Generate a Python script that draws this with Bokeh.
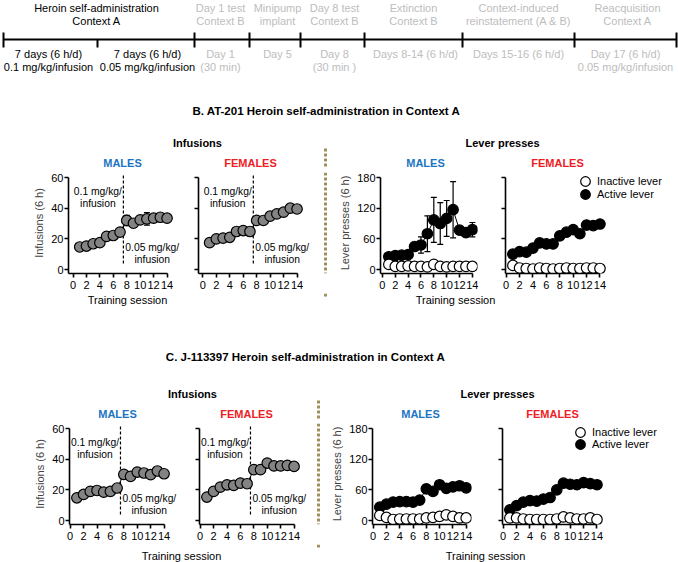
from bokeh.plotting import figure
from bokeh.models import Range1d, FixedTicker, Whisker, TeeHead, ColumnDataSource, Legend, LegendItem
from bokeh.layouts import column, row
from bokeh.embed import file_html
from bokeh.resources import INLINE
from bokeh.core.properties import value

# ---------------- data ----------------
sessions = list(range(1, 15))
x_ticks = [0, 2, 4, 6, 8, 10, 12, 14]
inf_ticks = [0, 20, 40, 60]
lev_ticks = [0, 60, 120, 180]

# B. AT-201 — infusions
b_inf_m = [14.7, 15.3, 16.8, 17.5, 21.6, 22.2, 24.4, 32.0, 30.2, 32.4, 33.0, 33.5, 34.1, 33.5]
b_inf_m_sem = [1, 1, 1, 1.5, 1.5, 1.5, 2, 3.3, 2, 2, 4.1, 2, 1.5, 1.5]
b_inf_f = [17.5, 20.0, 20.5, 21.0, 24.8, 25.4, 24.8, 32.0, 32.0, 34.8, 36.3, 37.4, 40.0, 39.5]
b_inf_f_sem = [1, 1, 1, 1, 1.5, 1.5, 1.5, 2, 2, 2, 2, 2, 2, 2]
# B. AT-201 — lever presses
b_act_m = [25, 27, 28, 29, 45, 48, 70, 97, 90, 100, 117, 77, 72, 78]
b_act_m_sem = [4, 4, 4, 5, 6, 16, 35, 44, 41, 35, 55, 8, 6, 14]
b_ina_m = [10, 6, 6, 7, 6, 6, 5, 10, 6, 5, 6, 6, 6, 6]
b_ina_m_sem = [3, 2, 2, 2, 2, 2, 2, 4, 2, 2, 2, 2, 2, 2]
b_act_f = [30, 35, 34, 42, 52, 50, 50, 66, 73, 78, 70, 87, 86, 89]
b_act_f_sem = [4, 4, 4, 5, 6, 5, 5, 5, 6, 6, 5, 8, 6, 5]
b_ina_f = [8, 3, 2, 1, 3, 2, 1, 2, 3, 2, 2, 3, 3, 2]
b_ina_f_sem = [2, 1, 1, 1, 1, 1, 1, 1, 1, 1, 1, 1, 1, 1]

# C. J-113397 — infusions
c_inf_m = [14.8, 17.0, 19.0, 19.6, 18.5, 19.0, 21.2, 30.1, 28.8, 31.6, 31.0, 29.9, 32.3, 30.5]
c_inf_m_sem = [1, 1, 1, 1, 1, 1, 1, 1.5, 1.5, 1.5, 1.5, 1.5, 1.5, 1.5]
c_inf_f = [15.3, 19.0, 21.8, 23.3, 22.9, 24.4, 24.0, 33.2, 33.2, 37.5, 35.6, 35.6, 36.0, 35.3]
c_inf_f_sem = [1, 1, 1, 1, 1, 1, 1, 1.5, 1.5, 1.5, 1.5, 1.5, 1.5, 1.5]
# C. J-113397 — lever presses
c_act_m = [26, 32, 36, 37, 37, 36, 40, 62, 57, 70, 63, 66, 68, 64]
c_act_m_sem = [3, 4, 4, 4, 4, 4, 4, 5, 5, 5, 5, 5, 5, 5]
c_ina_m = [10, 6, 2, 3, 3, 3, 3, 5, 6, 8, 11, 8, 5, 5]
c_ina_m_sem = [2, 1, 1, 1, 1, 1, 1, 1, 1, 2, 2, 1, 1, 1]
c_act_f = [21, 29, 36, 39, 38, 42, 45, 60, 73, 71, 70, 74, 72, 70]
c_act_f_sem = [3, 4, 4, 4, 4, 4, 4, 5, 5, 5, 5, 5, 5, 5]
c_ina_f = [5, 5, 3, 2, 2, 2, 2, 3, 7, 5, 3, 3, 5, 2]
c_ina_f_sem = [1, 1, 1, 1, 1, 1, 1, 1, 1, 1, 1, 1, 1, 1]

# timeline (schematic): stage edges and labels
timeline_edges = [3, 194, 249, 300, 364, 462, 574, 676]
timeline_minor = [97]
stage_top = [
    ("Heroin self-administration", "Context A", 96, "k"),
    ("Day 1 test", "Context B", 220, "g"),
    ("Minipump", "implant", 277, "g"),
    ("Day 8 test", "Context B", 334, "g"),
    ("Extinction", "Context B", 413, "g"),
    ("Context-induced", "reinstatement (A & B)", 518, "g"),
    ("Reacquisition", "Context A", 627, "g"),
]
stage_bottom = [
    ("7 days (6 h/d)", "0.1 mg/kg/infusion", 48, "k"),
    ("7 days (6 h/d)", "0.05 mg/kg/infusion", 147, "k"),
    ("Day 1", "(30 min)", 220, "g"),
    ("Day 5", "", 277, "g"),
    ("Day 8", "(30 min )", 334, "g"),
    ("Days 8-14 (6 h/d)", "", 415, "g"),
    ("Days 15-16 (6 h/d)", "", 518, "g"),
    ("Day 17 (6 h/d)", "0.05 mg/kg/infusion", 625, "g"),
]

# ---------------- style ----------------
FONT = "Liberation Sans"
BLACK = "#000000"
GREY = "#bdbdbd"
BLUE = "#1b75c4"
RED = "#ee1c24"
SEPC = "#a08f5f"
INF_FILL = "#838383"
W = 678
PPU = 6.7
INF_Y = (-2.6, 63.3)
LEV_Y = (-7.8, 189.8)
COL = {"k": BLACK, "g": GREY}
ROW_H = 125


def txt(p, x, y, s, color=BLACK, size="11px", bold=False, align="center"):
    p.text(x=[x], y=[y], text=[s], text_font=value(FONT), text_font_size=value(size),
           text_color=color, text_align=align, text_baseline="middle",
           text_font_style="bold" if bold else "normal")


def plain(width, height, top=0):
    p = figure(width=width, height=height, x_range=Range1d(0, width),
               y_range=Range1d(top + height, top),
               x_axis_type=None, y_axis_type=None, toolbar_location=None,
               output_backend="svg", min_border=0, outline_line_color=None)
    p.title.visible = False
    return p


def sep_line(p, x, y0, y1):
    p.segment(x0=[x], y0=[y0], x1=[x], y1=[y1], line_color=SEPC, line_width=3, line_dash="3 2")


def sep_fig(width, local_x):
    p = plain(width, ROW_H)
    sep_line(p, local_x, 0, ROW_H)
    return p


def panel(start, end, fleft, xstart, xend, kind, female, ylabel=None):
    fw = int(round((xend - xstart) * PPU))
    yr = INF_Y if kind == "inf" else LEV_Y
    yt = inf_ticks if kind == "inf" else lev_ticks
    p = figure(width=end - start, height=ROW_H,
               x_range=Range1d(xstart, xend), y_range=Range1d(*yr),
               min_border_left=fleft - start, min_border_right=max(0, end - (fleft + fw)),
               min_border_top=4, min_border_bottom=20,
               toolbar_location=None, output_backend="svg", outline_line_color=None)
    p.title.visible = False
    p.grid.visible = False
    for ax in (p.xaxis[0], p.yaxis[0]):
        ax.axis_line_width = 1.6
        ax.major_tick_line_width = 1.6
        ax.minor_tick_line_width = 1.6
        ax.major_tick_out = 4
        ax.major_tick_in = 0
        ax.minor_tick_out = 0
        ax.minor_tick_in = 0
        ax.major_label_text_font = FONT
        ax.major_label_text_font_size = "11px"
        ax.major_label_text_color = BLACK
        ax.major_label_standoff = 1
        ax.axis_label_text_font = FONT
        ax.axis_label_text_font_size = "11px"
        ax.axis_label_text_font_style = "normal"
        ax.axis_label_standoff = 3
    p.xaxis.ticker = FixedTicker(ticks=x_ticks)
    p.xaxis.bounds = (xstart, 14)
    p.xaxis.major_label_standoff = 3
    p.yaxis.bounds = (yr[0], yt[-1])
    if female:
        # ticks without numbers
        p.yaxis.ticker = FixedTicker(ticks=[], minor_ticks=yt)
        p.yaxis.minor_tick_out = 4
    else:
        p.yaxis.ticker = FixedTicker(ticks=yt)
    if ylabel:
        p.yaxis.axis_label = ylabel
    return p


def add_series(p, vals, sem, fill, size=10.5):
    src = ColumnDataSource(dict(x=sessions, y=vals,
                                lower=[v - e for v, e in zip(vals, sem)],
                                upper=[v + e for v, e in zip(vals, sem)]))
    p.add_layout(Whisker(base="x", upper="upper", lower="lower", source=src, level="underlay",
                         line_color=BLACK, line_width=1.2,
                         upper_head=TeeHead(size=6, line_color=BLACK, line_width=1.2),
                         lower_head=TeeHead(size=6, line_color=BLACK, line_width=1.2)))
    p.line("x", "y", source=src, line_color=BLACK, line_width=1)
    return p.scatter("x", "y", source=src, marker="circle", size=size, fill_color=fill,
                     line_color=BLACK, line_width=1.2)


def inf_panel(start, end, fleft, xstart, vals, sem, female, ylabel=None):
    p = panel(start, end, fleft, xstart, 16.3, "inf", female, ylabel)
    p.segment(x0=[7.5], y0=[4], x1=[7.5], y1=[62], line_color=BLACK, line_width=1.2,
              line_dash="3 2")
    txt(p, 3.7, 51, "0.1 mg/kg/", size="10.3px")
    txt(p, 3.7, 43, "infusion", size="10.3px")
    txt(p, 11.8, 14.5, "0.05 mg/kg/", size="10.3px")
    txt(p, 11.8, 6.5, "infusion", size="10.3px")
    add_series(p, vals, sem, INF_FILL)
    return p


def one_legend(label, rend, loc):
    return Legend(items=[LegendItem(label=label, renderers=[rend])],
                  location=loc, glyph_width=24, glyph_height=24,
                  padding=0, margin=0, label_standoff=0, label_height=12,
                  border_line_color=None, background_fill_alpha=0,
                  label_text_font=FONT, label_text_font_size="11px", label_text_color=BLACK)


def lev_panel(start, end, fleft, xstart, xend, act, act_sem, ina, ina_sem, female,
              ylabel=None, legend_xy=None):
    p = panel(start, end, fleft, xstart, xend, "lev", female, ylabel)
    r_act = add_series(p, act, act_sem, BLACK)
    r_ina = add_series(p, ina, ina_sem, "white")
    if legend_xy is not None:
        vx, vy1, vy2 = legend_xy
        p.add_layout(one_legend("Inactive lever", r_ina, (vx, vy1)))
        p.add_layout(one_legend("Active lever", r_act, (vx, vy2)))
    return p


# ---------------- header (timeline + B titles) ----------------
h1 = plain(W, 168)
ly = 39
h1.line(x=[timeline_edges[0], timeline_edges[-1]], y=[ly, ly], line_color=BLACK, line_width=2)
h1.segment(x0=timeline_edges, y0=[32] * len(timeline_edges),
           x1=timeline_edges, y1=[47] * len(timeline_edges),
           line_color=BLACK, line_width=2)
h1.segment(x0=timeline_minor, y0=[ly] * len(timeline_minor),
           x1=timeline_minor, y1=[47] * len(timeline_minor),
           line_color=BLACK, line_width=2)
for l1, l2, cx, c in stage_top:
    txt(h1, cx, 7, l1, COL[c])
    txt(h1, cx, 20, l2, COL[c])
for l1, l2, cx, c in stage_bottom:
    txt(h1, cx, 53, l1, COL[c])
    if l2:
        txt(h1, cx, 66, l2, COL[c])
txt(h1, 326, 110, "B. AT-201 Heroin self-administration in Context A", size="11.5px", bold=True)
txt(h1, 197, 142, "Infusions", bold=True)
txt(h1, 502, 142, "Lever presses", bold=True)
txt(h1, 122, 162, "MALES", BLUE, bold=True)
txt(h1, 250, 162, "FEMALES", RED, bold=True)
txt(h1, 425, 162, "MALES", BLUE, bold=True)
txt(h1, 557, 162, "FEMALES", RED, bold=True)
sep_line(h1, 325, 148, 168)

# ---------------- row B ----------------
bA = inf_panel(0, 184, 68, -0.67, b_inf_m, b_inf_m_sem, False, "Infusions (6 h)")
bB = inf_panel(184, 312, 198, -0.65, b_inf_f, b_inf_f_sem, True)
bS = sep_fig(24, 13)
bC = lev_panel(336, 486, 376, -0.3, 14.8, b_act_m, b_act_m_sem, b_ina_m, b_ina_m_sem, False,
               "Lever presses (6 h)")
bD = lev_panel(486, 678, 505, -0.1, -0.1 + (676 - 505) / PPU, b_act_f, b_act_f_sem,
               b_ina_f, b_ina_f_sem, True, legend_xy=(68, 80, 67))
rowB = row(bA, bB, bS, bC, bD)

# ---------------- middle band ----------------
mid = plain(W, 126, top=293)
txt(mid, 127, 299, "Training session")
txt(mid, 455, 299, "Training session")
txt(mid, 305, 356, "C. J-113397 Heroin self-administration in Context A", size="11.5px", bold=True)
txt(mid, 192, 393, "Infusions", bold=True)
txt(mid, 497, 393, "Lever presses", bold=True)
txt(mid, 117, 413, "MALES", BLUE, bold=True)
txt(mid, 246, 413, "FEMALES", RED, bold=True)
txt(mid, 420, 413, "MALES", BLUE, bold=True)
txt(mid, 552, 413, "FEMALES", RED, bold=True)
sep_line(mid, 325, 293, 296)
sep_line(mid, 318, 400, 419)

# ---------------- row C ----------------
cA = inf_panel(0, 184, 69, -0.1, c_inf_m, c_inf_m_sem, False, "Infusions (6 h)")
cB = inf_panel(184, 310, 199, -0.1, c_inf_f, c_inf_f_sem, True)
cS = sep_fig(18, 8)
cC = lev_panel(328, 482, 371, -0.1, 14.8, c_act_m, c_act_m_sem, c_ina_m, c_ina_m_sem, False,
               "Lever presses (6 h)")
cD = lev_panel(482, 678, 502, -0.1, -0.1 + (676 - 502) / PPU, c_act_f, c_act_f_sem,
               c_ina_f, c_ina_f_sem, True, legend_xy=(66, 80, 68))
rowC = row(cA, cB, cS, cC, cD)

# ---------------- footer ----------------
foot = plain(W, 18, top=544)
txt(foot, 181, 555, "Training session")
txt(foot, 485, 555, "Training session")
sep_line(foot, 318, 544, 547)

layout = column(h1, rowB, mid, rowC, foot)
open("out.html", "w").write(file_html(layout, INLINE))
